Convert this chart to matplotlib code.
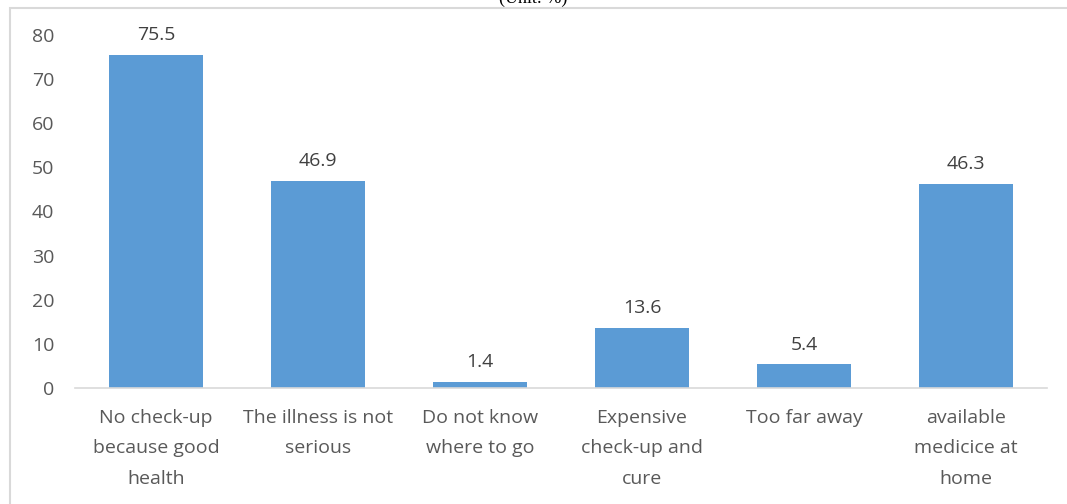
import matplotlib
matplotlib.use("Agg")
import matplotlib.pyplot as plt
from matplotlib.patches import Rectangle

categories = ["No check-up\nbecause good\nhealth", "The illness is not\nserious",
              "Do not know\nwhere to go", "Expensive\ncheck-up and\ncure",
              "Too far away", "available\nmedicice at\nhome"]
values = [75.5, 46.9, 1.4, 13.6, 5.4, 46.3]
yticks = [0, 10, 20, 30, 40, 50, 60, 70, 80]

plt.rcParams['font.family'] = ['Open Sans', 'DejaVu Sans']
W, H = 1067, 504
fig = plt.figure(figsize=(W/100, H/100), dpi=100)

# outer chart border
fig.patches.append(Rectangle((10/W, -0.1), 1.2, 1 - 8/H + 0.1, transform=fig.transFigure,
                             fill=False, edgecolor='#D9D9D9', linewidth=1.5))
fig.text(0.5, 1.0 + 2/H, "(Unit: %)", ha='center', va='center', fontsize=13,
         family=['Liberation Serif'], color='black')

ax = fig.add_axes([75/W, 1 - 388/H, (1047-75)/W, (388-35)/H])
x = range(len(values))
ax.bar(x, values, width=0.575, color='#5B9BD5')
for xi, v in zip(x, values):
    ax.text(xi, v + 2.4, f"{v}", ha='center', va='bottom', fontsize=14, color='#404040')

ax.set_xlim(-0.5, len(values) - 0.5)
ax.set_ylim(0, 80)
ax.set_yticks(yticks)
ax.set_xticks(list(x))
ax.set_xticklabels(categories, fontsize=14, color='#595959', linespacing=1.9)
ax.tick_params(axis='y', labelsize=14, labelcolor='#595959', length=0, pad=15)
ax.tick_params(axis='x', length=0, pad=15)
for s in ['top', 'right', 'left']:
    ax.spines[s].set_visible(False)
ax.spines['bottom'].set_color('#D9D9D9')
ax.spines['bottom'].set_linewidth(1.2)

fig.savefig("out.png", dpi=100)
